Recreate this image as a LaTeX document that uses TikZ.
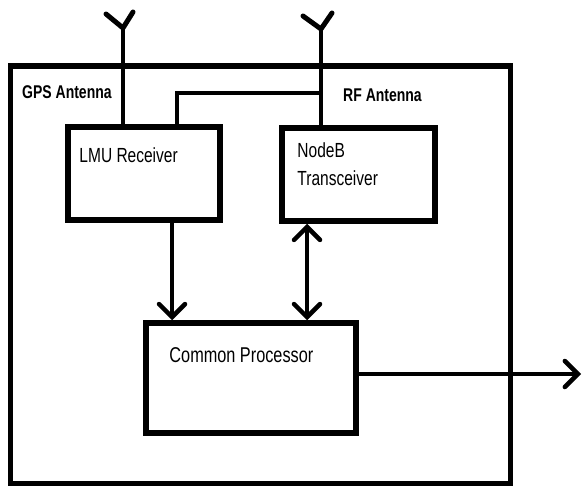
\documentclass[tikz,border=0pt]{standalone}
\usepackage{fontspec}
\setmainfont{Liberation Sans}[FakeStretch=0.76]
\usetikzlibrary{arrows.meta,positioning}
\tikzset{
  blockbox/.style={draw, line width=5.5bp, rectangle, inner sep=0pt},
  wire/.style={line width=4.5bp},
  antlabel/.style={font=\fontsize{18.5}{20}\selectfont\bfseries, inner sep=0pt, anchor=west},
  boxlabel/.style={font=\fontsize{20.5}{28}\selectfont, inner sep=0pt, align=left},
  tip/.style={-{Straight Barb[length=13bp,width=26bp,line cap=round]}},
  dtip/.style={{Straight Barb[length=13bp,width=26bp,line cap=round]}-{Straight Barb[length=13bp,width=26bp,line cap=round]}}
}
\begin{document}
\begin{tikzpicture}[x=1bp, y=-1bp]
  \useasboundingbox (0,0) rectangle (583,486);
  % Cadre
  \node[blockbox, minimum width=500bp, minimum height=418bp] (frame) at (260.5,275) {};
  % Blocs
  \node[blockbox, minimum width=152bp, minimum height=93bp] (lmu) at (144,173.5) {};
  \node[blockbox, minimum width=153bp, minimum height=93bp] (nodeb) at (358.5,174.5) {};
  \node[blockbox, minimum width=210bp, minimum height=110bp] (cp) at (251,378) {};
  \node[boxlabel, anchor=west] (lmutext) at ([xshift=14bp, yshift=-31bp]lmu.north west) {LMU Receiver};
  \node[boxlabel, anchor=north west] (nodebtext) at ([xshift=18bp, yshift=-17bp]nodeb.north west) {NodeB\\Transceiver};
  \node[boxlabel, anchor=west, font=\fontsize{21.5}{25}\selectfont] (cptext) at ([xshift=26bp, yshift=-35bp]cp.north west) {Common Processor};
  % Antennes
  \coordinate (gps) at (123,28);
  \coordinate (gpsl) at (106,14);
  \coordinate (gpsr) at (133,12);
  \coordinate (rf) at (321,29);
  \coordinate (rfl) at (303,16);
  \coordinate (rfr) at (332,13);
  \draw[wire, line width=5bp, line cap=round, line join=round] (gpsl) -- (gps) -- (gpsr);
  \draw[wire, line width=5bp, line cap=round, line join=round] (rfl) -- (rf) -- (rfr);
  \draw[wire] (gps) -- (lmu.north -| gps);
  \draw[wire] (rf) -- (nodeb.north -| rf);
  \node[antlabel] (gpstext) at (22,92) {GPS Antenna};
  \node[antlabel] (rftext) at (343,95) {RF Antenna};
  % Liaison LMU - RF
  \coordinate (lmutap) at (177,93);
  \draw[wire] (lmu.north -| lmutap) -- (lmutap) -- (lmutap -| rf);
  % Fleches
  \coordinate (down) at (172,0);
  \coordinate (both) at (307,0);
  \coordinate (outtip) at (581,374);
  \draw[wire, tip] (lmu.south -| down) -- (cp.north -| down);
  \draw[wire, dtip] (nodeb.south -| both) -- (cp.north -| both);
  \draw[wire, tip] (cp.east |- outtip) -- (outtip);
\end{tikzpicture}
\end{document}
